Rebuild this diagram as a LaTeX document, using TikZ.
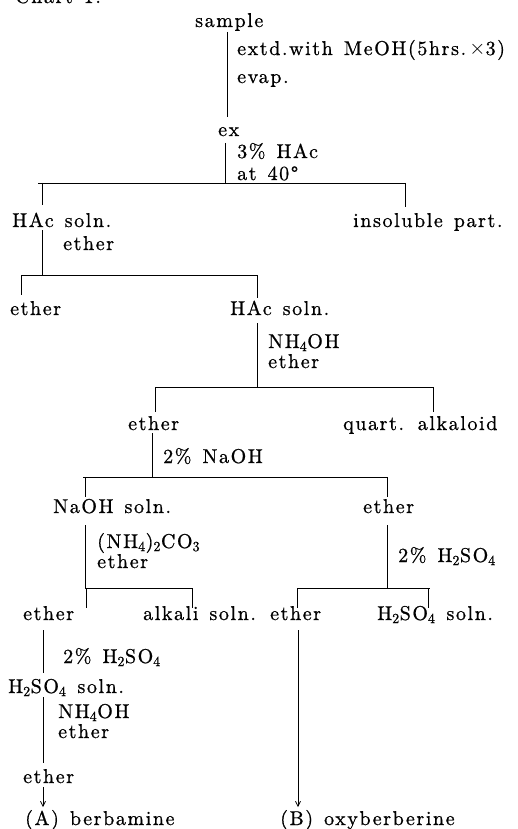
\documentclass[tikz,border=0pt]{standalone}
\usepackage{fontspec}
\newfontfamily\chartfont{lmroman10-regular.otf}[LetterSpace=8,FakeBold=0.8]
\newcommand\chartsetup{\chartfont\fontsize{20}{22}\selectfont\spaceskip=11pt plus 2pt minus 1pt\relax}
\usetikzlibrary{arrows.meta}
\begin{document}
\begin{tikzpicture}[x=1pt,y=-1pt,
  txt/.style={anchor=base west, inner sep=0pt, font=\chartsetup},
  two/.style={txt, align=left},
  ln/.style={line width=0.7pt},
  arr/.style={ln,-{Straight Barb[length=5pt,width=5pt]}}]
\useasboundingbox (0,0) rectangle (517,829);
% title (cut off at top)
\node[txt] (title) at (15,3) {Chart 1.};
% texts
\node[txt] (sample) at (195,27) {sample};
\node[txt] (extd) at (237,55) {extd.with MeOH(5hrs.\,$\times$3)};
\node[txt] (evap) at (237,83) {evap.};
\node[txt] (ex) at (218,136) {ex};
\node[two] (hac3) at (237,180) {3\% HAc\\[0pt]at 40°};
\node[txt] (hacsoln1) at (12,227) {HAc soln.};
\node[txt] (insol) at (353,227) {insoluble part.};
\node[txt] (eth1) at (63,250) {ether};
\node[txt] (ether2) at (10,315) {ether};
\node[txt] (hacsoln2) at (230,315) {HAc soln.};
\node[two] (nh1) at (268,368) {NH\textsubscript{4}OH\\[-2pt]ether};
\node[txt] (ether3) at (128,430) {ether};
\node[txt] (quart) at (343,430) {quart. alkaloid};
\node[txt] (naoh2) at (163,463) {2\% NaOH};
\node[txt] (naohsoln) at (53,513) {NaOH soln.};
\node[txt] (ether4) at (363,513) {ether};
\node[two] (carb) at (97,568) {(NH\textsubscript{4})\textsubscript{2}CO\textsubscript{3}\\[-2pt]ether};
\node[txt] (hs1) at (398,562) {2\% H\textsubscript{2}SO\textsubscript{4}};
\node[txt] (ether5a) at (23,620) {ether};
\node[txt] (alkali) at (143,620) {alkali soln.};
\node[txt] (ether5b) at (270,620) {ether};
\node[txt] (hsoln1) at (377,620) {H\textsubscript{2}SO\textsubscript{4} soln.};
\node[txt] (hs2) at (63,663) {2\% H\textsubscript{2}SO\textsubscript{4}};
\node[txt] (hsoln2) at (8,693) {H\textsubscript{2}SO\textsubscript{4} soln.};
\node[two] (nh2) at (58,738) {NH\textsubscript{4}OH\\[-2pt]ether};
\node[txt] (ether6) at (23,783) {ether};
\node[txt] (prodA) at (25,825) {(A) berbamine};
\node[txt] (prodB) at (280,825) {(B) oxyberberine};
% junction coordinates
\coordinate (a1) at (227,32);  \coordinate (a2) at (227,117);
\coordinate (b1) at (225,143); \coordinate (b2) at (225,183);
\coordinate (bL) at (38,183);  \coordinate (bR) at (405,183);
\coordinate (bl1) at (42,183); \coordinate (bl2) at (42,205);
\coordinate (br1) at (405,183); \coordinate (br2) at (405,207);
\coordinate (c1) at (42,230);  \coordinate (c2) at (42,275);
\coordinate (cL) at (21,275);  \coordinate (cR) at (257,275);
\coordinate (cl2) at (21,295); \coordinate (cr2) at (257,298);
\coordinate (d1) at (257,323); \coordinate (d2) at (257,387);
\coordinate (dL) at (155,387); \coordinate (dR) at (433,387);
\coordinate (dl2) at (155,412); \coordinate (dr2) at (433,412);
\coordinate (e1) at (152,433); \coordinate (e2) at (152,477);
\coordinate (eL) at (83,477);  \coordinate (eR) at (387,477);
\coordinate (el2) at (85,497); \coordinate (er2) at (387,497);
\coordinate (el1) at (85,477);
\coordinate (f1) at (85,525);  \coordinate (f2) at (85,588);
\coordinate (fR) at (193,588);
\coordinate (fl1) at (86,588); \coordinate (fl2) at (86,608);
\coordinate (fr1) at (192,588); \coordinate (fr2) at (192,608);
\coordinate (g1) at (387,525); \coordinate (g2) at (387,588);
\coordinate (gL) at (297,588); \coordinate (gR) at (430,588);
\coordinate (gl2) at (297,608);
\coordinate (gr1) at (428,588); \coordinate (gr2) at (428,608);
\coordinate (h1) at (43,630);  \coordinate (h2) at (43,673);
\coordinate (i1) at (43,697);  \coordinate (i2) at (43,763);
\coordinate (j1) at (43,787);  \coordinate (j2) at (43,807);
\coordinate (k1) at (298,630); \coordinate (k2) at (298,807);
% connectors
\draw[ln] (a1) -- (a2);
\draw[ln] (b1) -- (b2);
\draw[ln] (bL) -- (bR);
\draw[ln] (bl1) -- (bl2);
\draw[ln] (br1) -- (br2);
\draw[ln] (c1) -- (c2);
\draw[ln] (cL) -- (cR);
\draw[ln] (cL) -- (cl2);
\draw[ln] (cR) -- (cr2);
\draw[ln] (d1) -- (d2);
\draw[ln] (dL) -- (dR);
\draw[ln] (dL) -- (dl2);
\draw[ln] (dR) -- (dr2);
\draw[ln] (e1) -- (e2);
\draw[ln] (eL) -- (eR);
\draw[ln] (el1) -- (el2);
\draw[ln] (eR) -- (er2);
\draw[ln] (f1) -- (f2);
\draw[ln] (f2) -- (fR);
\draw[ln] (fl1) -- (fl2);
\draw[ln] (fr1) -- (fr2);
\draw[ln] (g1) -- (g2);
\draw[ln] (gL) -- (gR);
\draw[ln] (gL) -- (gl2);
\draw[ln] (gr1) -- (gr2);
\draw[ln] (h1) -- (h2);
\draw[ln] (i1) -- (i2);
\draw[arr] (j1) -- (j2);
\draw[arr] (k1) -- (k2);
\end{tikzpicture}
\end{document}
